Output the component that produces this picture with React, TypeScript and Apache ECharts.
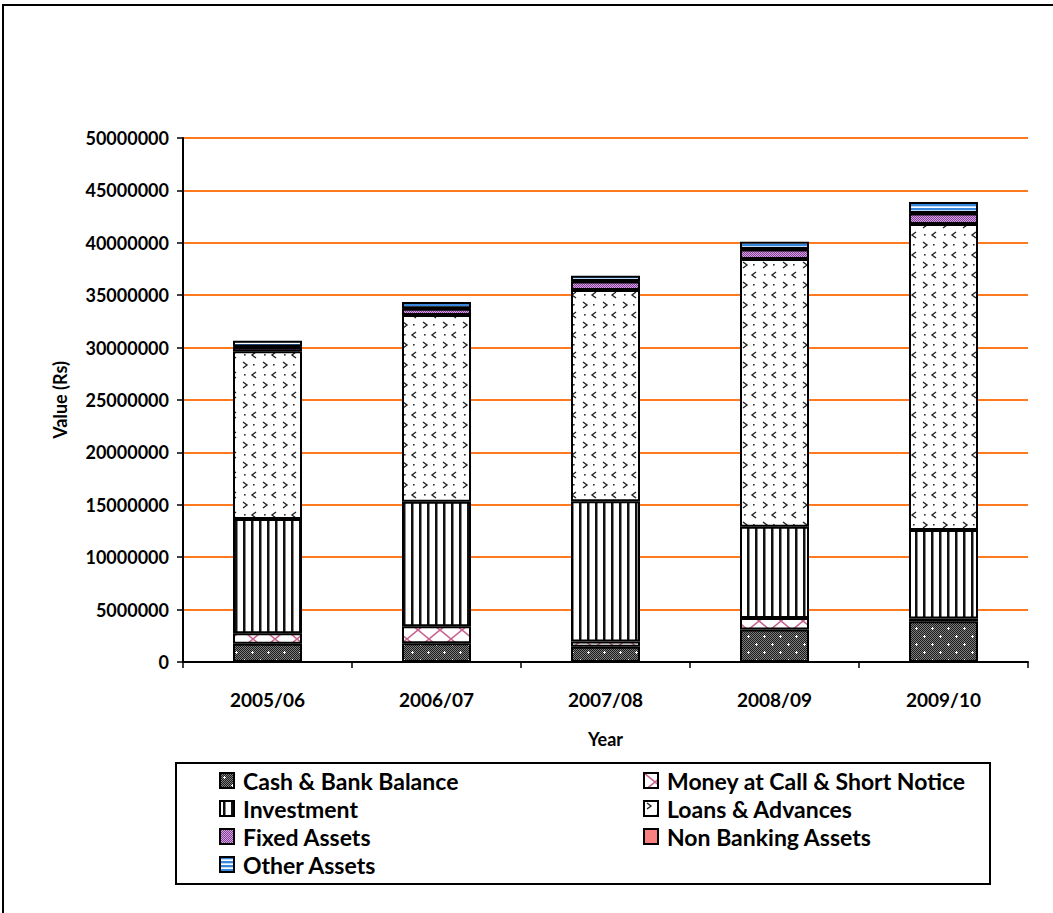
import React, { useEffect, useRef } from "react";
import * as echarts from "echarts";

const years = ["2005/06", "2006/07", "2007/08", "2008/09", "2009/10"];
const cashBank = [1750000, 1800000, 1450000, 3100000, 3900000];
const moneyAtCall = [1000000, 1600000, 500000, 1100000, 250000];
const investment = [10900000, 11900000, 13400000, 8700000, 8450000];
const loansAdvances = [16000000, 17800000, 20150000, 25550000, 29200000];
const fixedAssets = [400000, 600000, 800000, 900000, 1000000];
const nonBanking = [50000, 50000, 50000, 50000, 50000];
const otherAssets = [550000, 600000, 500000, 700000, 1050000];

const FONT = "Lato, 'DejaVu Sans', sans-serif";

function makeCanvas(w: number, h: number, draw: (ctx: CanvasRenderingContext2D) => void) {
  const c = document.createElement("canvas");
  c.width = w;
  c.height = h;
  const ctx = c.getContext("2d") as CanvasRenderingContext2D;
  draw(ctx);
  return c;
}

function pattern(c: HTMLCanvasElement) {
  return { image: c, repeat: "repeat", imageWidth: c.width, imageHeight: c.height } as any;
}

function buildPatterns() {
  const cash = makeCanvas(16, 16, (ctx) => {
    for (let y = 0; y < 16; y++)
      for (let x = 0; x < 16; x++) {
        ctx.fillStyle = (x + y) % 2 === 0 ? "#1c1c1c" : "#7c7c7c";
        ctx.fillRect(x, y, 1, 1);
      }
    ctx.fillStyle = "#ffffff";
    const plus = (cx: number, cy: number) => {
      ctx.fillRect(cx - 1, cy, 3, 1);
      ctx.fillRect(cx, cy - 1, 1, 3);
    };
    plus(4, 4);
    plus(12, 12);
  });
  const money = makeCanvas(22, 18, (ctx) => {
    ctx.fillStyle = "#ffffff";
    ctx.fillRect(0, 0, 22, 18);
    ctx.strokeStyle = "#c8648e";
    ctx.lineWidth = 1.6;
    ctx.beginPath();
    ctx.moveTo(0, 0);
    ctx.lineTo(22, 18);
    ctx.moveTo(22, 0);
    ctx.lineTo(0, 18);
    ctx.stroke();
  });
  const invest = makeCanvas(8, 8, (ctx) => {
    ctx.fillStyle = "#ffffff";
    ctx.fillRect(0, 0, 8, 8);
    ctx.fillStyle = "#111111";
    ctx.fillRect(3, 0, 2, 8);
    ctx.fillStyle = "#888888";
    ctx.fillRect(5, 0, 1, 8);
  });
  const loans = makeCanvas(20, 20, (ctx) => {
    ctx.fillStyle = "#ffffff";
    ctx.fillRect(0, 0, 20, 20);
    ctx.strokeStyle = "#222222";
    ctx.lineWidth = 1.4;
    ctx.beginPath();
    ctx.moveTo(3, 2);
    ctx.lineTo(7, 5);
    ctx.lineTo(3, 8);
    ctx.moveTo(16, 12);
    ctx.lineTo(12, 15);
    ctx.lineTo(16, 18);
    ctx.stroke();
    ctx.fillStyle = "#333333";
    ctx.fillRect(13, 4, 1.6, 1.6);
    ctx.fillRect(4, 14, 1.6, 1.6);
  });
  const fixed = makeCanvas(4, 4, (ctx) => {
    for (let y = 0; y < 4; y++)
      for (let x = 0; x < 4; x++) {
        ctx.fillStyle = (x + y) % 2 === 0 ? "#8a3c9e" : "#cfa6da";
        ctx.fillRect(x, y, 1, 1);
      }
  });
  const other = makeCanvas(4, 4, (ctx) => {
    ctx.fillStyle = "#3a88dc";
    ctx.fillRect(0, 0, 4, 2);
    ctx.fillStyle = "#bcdcfa";
    ctx.fillRect(0, 2, 4, 1);
    ctx.fillStyle = "#ffffff";
    ctx.fillRect(0, 3, 4, 1);
  });
  return {
    cash: pattern(cash),
    money: pattern(money),
    invest: pattern(invest),
    loans: pattern(loans),
    fixed: pattern(fixed),
    nonbank: "#f88080",
    other: pattern(other),
  };
}

export default function App() {
  const ref = useRef<HTMLDivElement>(null);
  useEffect(() => {
    document.body.style.margin = "0";
    if (!ref.current) return;
    const chart = echarts.init(ref.current, undefined, { renderer: "svg" });
    const p = buildPatterns();
    const seriesDefs = [
      { name: "Cash & Bank Balance", data: cashBank, color: p.cash },
      { name: "Money at Call & Short Notice", data: moneyAtCall, color: p.money },
      { name: "Investment", data: investment, color: p.invest },
      { name: "Loans & Advances", data: loansAdvances, color: p.loans },
      { name: "Fixed Assets", data: fixedAssets, color: p.fixed },
      { name: "Non Banking Assets", data: nonBanking, color: p.nonbank },
      { name: "Other Assets", data: otherAssets, color: p.other },
    ];
    const legendPos = [
      { left: 219, top: 769 },
      { left: 643, top: 769 },
      { left: 219, top: 797 },
      { left: 643, top: 797 },
      { left: 219, top: 825 },
      { left: 643, top: 825 },
      { left: 219, top: 853 },
    ];
    chart.setOption({
      animation: false,
      textStyle: { fontFamily: FONT },
      grid: { left: 183, right: 25, top: 138, bottom: 251 },
      legend: seriesDefs.map((s, i) => ({
        data: [s.name],
        left: legendPos[i].left,
        top: legendPos[i].top,
        padding: 0,
        icon: "rect",
        itemWidth: 14,
        itemHeight: 15,
        itemGap: 0,
        selectedMode: false,
        textStyle: { fontFamily: FONT, fontWeight: "bold", fontSize: 23, color: "#000", padding: [0, 0, 0, 4] },
      })),
      xAxis: {
        type: "category",
        data: years,
        name: "Year",
        nameLocation: "middle",
        nameGap: 68,
        nameTextStyle: { fontFamily: FONT, fontWeight: "bold", fontSize: 18, color: "#000" },
        axisLine: { show: true, lineStyle: { color: "#000", width: 2 } },
        axisTick: { show: true, length: 6, lineStyle: { color: "#000", width: 1.5 } },
        axisLabel: { margin: 28, fontFamily: FONT, fontWeight: "bold", fontSize: 19, color: "#000" },
        splitLine: { show: false },
      },
      yAxis: {
        type: "value",
        min: 0,
        max: 50000000,
        interval: 5000000,
        name: "Value (Rs)",
        nameLocation: "middle",
        nameGap: 114,
        nameRotate: 90,
        nameTextStyle: { fontFamily: FONT, fontWeight: "bold", fontSize: 18, color: "#000" },
        axisLine: { show: true, lineStyle: { color: "#000", width: 2 } },
        axisTick: { show: true, length: 6, lineStyle: { color: "#000", width: 1.5 } },
        axisLabel: {
          margin: 14,
          fontFamily: FONT,
          fontWeight: "bold",
          fontSize: 18,
          color: "#000",
          formatter: (v: number) => String(v),
        },
        splitLine: { show: true, lineStyle: { color: "#ff7a1f", width: 2 } },
      },
      series: seriesDefs.map((s) => ({
        name: s.name,
        type: "bar",
        stack: "total",
        barWidth: 69,
        data: s.data,
        itemStyle: { color: s.color, borderColor: "#000", borderWidth: 2 },
        emphasis: { disabled: true },
      })),
      graphic: [
        {
          type: "rect",
          shape: { x: 3, y: 5, width: 1060, height: 920 },
          style: { fill: "none", stroke: "#000", lineWidth: 2 },
          silent: true,
          z: -10,
        },
        {
          type: "rect",
          shape: { x: 176, y: 763, width: 814, height: 121 },
          style: { fill: "none", stroke: "#000", lineWidth: 2 },
          silent: true,
        },
      ],
    });
    return () => chart.dispose();
  }, []);
  return <div ref={ref} style={{ width: 1053, height: 913 }} />;
}
